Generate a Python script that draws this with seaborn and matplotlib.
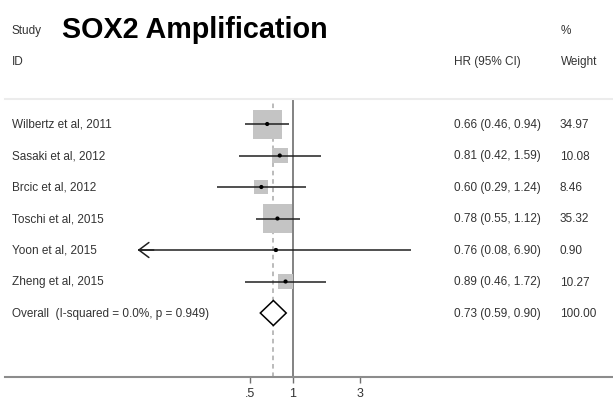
import numpy as np
import pandas as pd
import seaborn as sns
import matplotlib.pyplot as plt
from matplotlib.patches import Polygon

studies = ['Wilbertz et al, 2011', 'Sasaki et al, 2012', 'Brcic et al, 2012',
           'Toschi et al, 2015', 'Yoon et al, 2015', 'Zheng et al, 2015']
hr = [0.66, 0.81, 0.60, 0.78, 0.76, 0.89]
ci_low = [0.46, 0.42, 0.29, 0.55, 0.08, 0.46]
ci_high = [0.94, 1.59, 1.24, 1.12, 6.90, 1.72]
weight = [34.97, 10.08, 8.46, 35.32, 0.90, 10.27]

overall_label = 'Overall  (I-squared = 0.0%, p = 0.949)'
overall_hr = 0.73
overall_low = 0.59
overall_high = 0.90

tick_vals = [0.5, 1, 3]
tick_labels = ['.5', '1', '3']

W, H = 613, 402
txt = '#333333'

sns.set_theme(style='white')
plt.rcParams['font.family'] = ['Liberation Sans', 'DejaVu Sans']

df = pd.DataFrame({'study': studies, 'hr': hr, 'lo': ci_low, 'hi': ci_high,
                   'weight': weight, 'row': np.arange(len(studies))})

fig = plt.figure(figsize=(W / 100, H / 100), dpi=100)
fig.patch.set_facecolor('white')

# forest panel: spans from the light top rule (y=100px) to the axis line (y=378px)
ax = fig.add_axes([5 / W, (H - 378) / H, 608 / W, (378 - 100) / H])
ax.set_xscale('log')
k, x1 = 61.4, 292.7  # px per log unit, pixel of HR=1
ax.set_xlim(np.exp((5 - x1) / k), np.exp((613 - x1) / k))
row_px, row0 = 31.5, 125
ax.set_ylim((378 - row0) / row_px, (100 - row0) / row_px)

# reference lines
ax.axvline(1, color='#606060', lw=1.1, zorder=1)
ax.axvline(overall_hr, color='#a8a8a8', lw=1.1, ls=(0, (3, 2.5)), zorder=1)

# weighted boxes (area proportional to weight)
side_scale = (29 * 0.72) ** 2 / 34.97
sns.scatterplot(data=df, x='hr', y='row', size='weight',
                sizes=(side_scale * min(weight), side_scale * max(weight)),
                size_norm=(min(weight), max(weight)),
                marker='s', color='#c4c4c4', edgecolor='none', linewidth=0,
                legend=False, ax=ax, zorder=2)

# confidence intervals
for _, r in df.iterrows():
    ax.hlines(r['row'], r['lo'], r['hi'], color='#202020', lw=1.1, zorder=3)
# Yoon CI runs off the left: arrow head
yoon = df.loc[df['lo'] < 0.1].iloc[0]
ax.annotate('', xy=(yoon['lo'], yoon['row']), xytext=(yoon['lo'] * 1.3, yoon['row']),
            arrowprops=dict(arrowstyle='->,head_length=0.6,head_width=0.45',
                            color='#202020', lw=1.1, shrinkA=0, shrinkB=0),
            zorder=3)

sns.scatterplot(data=df, x='hr', y='row', color='black', s=9, edgecolor='none',
                legend=False, ax=ax, zorder=4)

# overall diamond
orow = len(studies)
hh = 12.5 / row_px
diamond = Polygon([(overall_low, orow), (overall_hr, orow - hh),
                   (overall_high, orow), (overall_hr, orow + hh)],
                  closed=True, facecolor='white', edgecolor='black', lw=1.1, zorder=4)
ax.add_patch(diamond)

# axes styling
ax.set_yticks([])
ax.set_xticks(tick_vals)
ax.set_xticklabels(tick_labels)
ax.minorticks_off()
ax.set_xlabel('')
ax.set_ylabel('')
ax.tick_params(axis='x', direction='out', length=4, width=1, color='#707070',
               labelsize=9, labelcolor=txt, pad=3.5, bottom=True)
for side in ['left', 'right']:
    ax.spines[side].set_visible(False)
ax.spines['bottom'].set_color('#8c8c8c')
ax.spines['bottom'].set_linewidth(1.5)
ax.spines['top'].set_color('#ececec')
ax.spines['top'].set_linewidth(1.5)


def fx(px):
    return px / W


def fy(py):
    return 1 - py / H


# headers
fig.text(fx(12), fy(31), 'Study', fontsize=8.5, color=txt, va='center')
fig.text(fx(62), fy(30), 'SOX2 Amplification', fontsize=20.7, fontweight='bold',
         color='black', va='center')
fig.text(fx(12), fy(62), 'ID', fontsize=8.5, color=txt, va='center')
fig.text(fx(454), fy(62), 'HR (95% CI)', fontsize=8.5, color=txt, va='center')
fig.text(fx(561), fy(31), '%', fontsize=8.5, color=txt, va='center')
fig.text(fx(561), fy(62), 'Weight', fontsize=8.5, color=txt, va='center')

# rows
labels = studies + [overall_label]
hrs = hr + [overall_hr]
los = ci_low + [overall_low]
his = ci_high + [overall_high]
wts = weight + [100.0]
for i in range(len(labels)):
    py = row0 + i * row_px
    fig.text(fx(12), fy(py), labels[i], fontsize=8.5, color=txt, va='center')
    fig.text(fx(454), fy(py), f'{hrs[i]:.2f} ({los[i]:.2f}, {his[i]:.2f})',
             fontsize=8.5, color=txt, va='center')
    fig.text(fx(560), fy(py), f'{wts[i]:.2f}', fontsize=8.5, color=txt, va='center')

fig.savefig('out.png', dpi=100, facecolor='white')
